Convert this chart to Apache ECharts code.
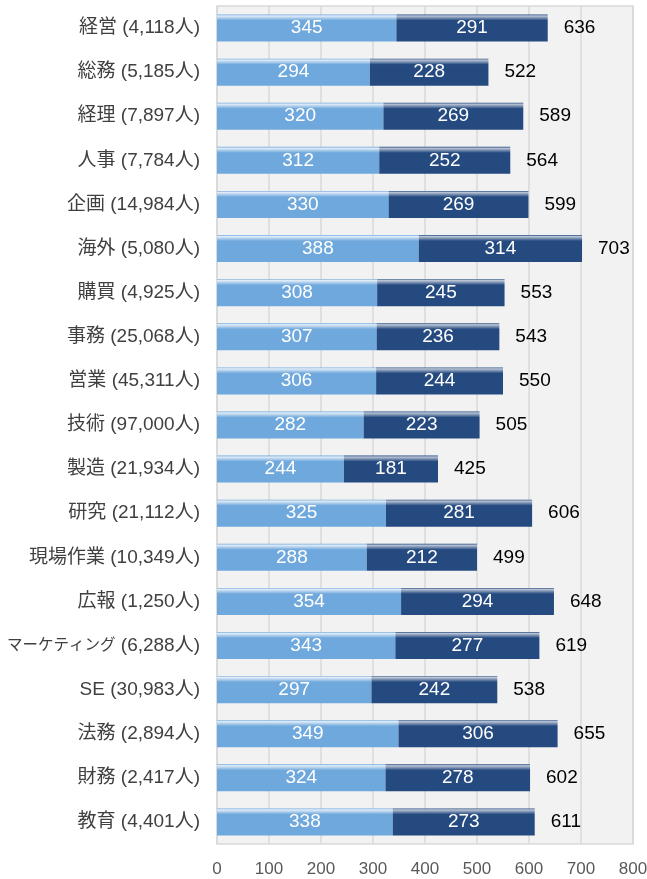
<!DOCTYPE html>
<html>
<head>
<meta charset="utf-8">
<script src="https://cdn.jsdelivr.net/npm/echarts@6/dist/echarts.min.js"></script>
<style>
  html, body { margin: 0; padding: 0; background: #fff; }
  #main { width: 647px; height: 879px; }
</style>
</head>
<body>
<div id="main"></div>
<script>
var categories = [
  '経営 (4,118人)', '総務 (5,185人)', '経理 (7,897人)', '人事 (7,784人)', '企画 (14,984人)',
  '海外 (5,080人)', '購買 (4,925人)', '事務 (25,068人)', '営業 (45,311人)', '技術 (97,000人)',
  '製造 (21,934人)', '研究 (21,112人)', '現場作業 (10,349人)', '広報 (1,250人)',
  'マーケティング (6,288人)', 'SE (30,983人)', '法務 (2,894人)', '財務 (2,417人)', '教育 (4,401人)'
];
var lightValues = [345, 294, 320, 312, 330, 388, 308, 307, 306, 282, 244, 325, 288, 354, 343, 297, 349, 324, 338];
var darkValues  = [291, 228, 269, 252, 269, 314, 245, 236, 244, 223, 181, 281, 212, 294, 277, 242, 306, 278, 273];
var totals      = [636, 522, 589, 564, 599, 703, 553, 543, 550, 505, 425, 606, 499, 648, 619, 538, 655, 602, 611];
var xTicks = [0, 100, 200, 300, 400, 500, 600, 700, 800];

var font = '"Liberation Sans", Arial, "Noto Sans CJK JP", sans-serif';

function barGradient(base, shine) {
  return new echarts.graphic.LinearGradient(0, 0, 0, 1, [
    {offset: 0, color: base},
    {offset: 0.05, color: shine},
    {offset: 0.22, color: base},
    {offset: 1, color: base}
  ]);
}

var chart = echarts.init(document.getElementById('main'));
chart.setOption({
  animation: false,
  grid: {
    left: 217, right: 14, top: 6, bottom: 35,
    containLabel: false,
    outerBoundsMode: 'none',
    show: true,
    backgroundColor: '#f2f2f2',
    borderColor: '#d9d9d9',
    borderWidth: 1.5
  },
  xAxis: {
    type: 'value',
    min: xTicks[0],
    max: xTicks[xTicks.length - 1],
    interval: 100,
    axisLine: {show: false},
    axisTick: {show: false},
    splitLine: {lineStyle: {color: '#d9d9d9', width: 1.5}},
    axisLabel: {color: '#595959', fontSize: 17, fontFamily: font, margin: 17}
  },
  yAxis: {
    type: 'category',
    data: categories,
    inverse: true,
    axisLine: {show: false},
    axisTick: {show: false},
    axisLabel: {
      color: '#404040', fontSize: 19, fontFamily: font, margin: 17,
      // katakana runs are set narrower so the long label fits
      formatter: function (v) { return v.replace(/[\u30A0-\u30FF]+/g, '{k|$&}'); },
      rich: {k: {fontSize: 15.5, fontFamily: font, color: '#404040'}}
    }
  },
  series: [
    {
      type: 'bar',
      stack: 'total',
      barWidth: 27,
      data: lightValues,
      itemStyle: {color: barGradient('#6fa8dc', '#e2edf8')},
      label: {show: true, position: 'inside', color: '#fff', fontSize: 19, fontFamily: font}
    },
    {
      type: 'bar',
      stack: 'total',
      barWidth: 27,
      data: darkValues,
      itemStyle: {color: barGradient('#244a80', '#bcc6d6')},
      label: {show: true, position: 'inside', color: '#fff', fontSize: 19, fontFamily: font}
    },
    {
      // totals drawn as labels on an empty stacked bar
      type: 'bar',
      stack: 'total',
      barWidth: 27,
      data: totals.map(function () { return 0; }),
      itemStyle: {color: 'transparent'},
      label: {
        show: true,
        position: 'right',
        distance: 16,
        color: '#000',
        fontSize: 19,
        fontFamily: font,
        formatter: function (p) { return totals[p.dataIndex]; }
      }
    }
  ]
});
</script>
</body>
</html>
